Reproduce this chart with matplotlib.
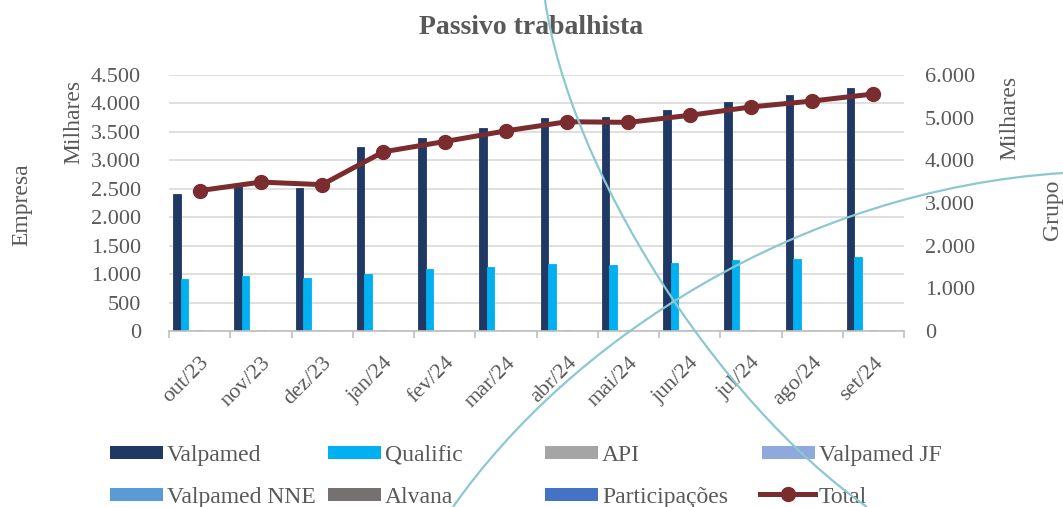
import numpy as np
import matplotlib
matplotlib.use("Agg")
import matplotlib.pyplot as plt
from matplotlib.path import Path
from matplotlib.patches import PathPatch, Rectangle
from matplotlib.lines import Line2D
from matplotlib.ticker import FuncFormatter

# -----------------------------------------
# Data (Milhares)
# -----------------------------------------

months = ["out/23", "nov/23", "dez/23", "jan/24", "fev/24", "mar/24",
          "abr/24", "mai/24", "jun/24", "jul/24", "ago/24", "set/24"]

valpamed = [2400, 2560, 2520, 3240, 3390, 3570, 3750, 3755, 3885, 4030, 4150, 4270]
qualific = [910, 970, 940, 1000, 1085, 1130, 1170, 1155, 1195, 1240, 1260, 1300]
api = [0, 0, 0, 0, 0, 0, 0, 0, 0, 0, 0, 0]
valpamed_jf = [15, 15, 15, 15, 15, 15, 15, 15, 15, 15, 15, 15]
valpamed_nne = [0, 0, 0, 0, 0, 0, 0, 0, 0, 0, 0, 0]
alvana = [0, 0, 0, 0, 0, 0, 0, 0, 0, 0, 0, 0]
participacoes = [0, 0, 0, 0, 0, 0, 0, 0, 0, 0, 0, 0]
total = [3290, 3490, 3430, 4200, 4440, 4690, 4905, 4890, 5055, 5250, 5390, 5555]

series_names = ["Valpamed", "Qualific", "API", "Valpamed JF",
                "Valpamed NNE", "Alvana", "Participações"]
series_vals = [valpamed, qualific, api, valpamed_jf,
               valpamed_nne, alvana, participacoes]
series_colors = ["#203864", "#00B0F0", "#A5A5A5", "#8EA9DB",
                 "#5B9BD5", "#767171", "#4472C4"]
TOTAL_COLOR = "#7B2C2E"

TEXT = "#595959"
plt.rcParams.update({
    "font.family": ["Liberation Serif", "DejaVu Serif"],
    "font.size": 16,
    "text.color": TEXT,
    "xtick.color": TEXT,
    "ytick.color": TEXT,
})


def milhar(v, pos=None):
    return f"{int(v):,}".replace(",", ".")


W, H = 1063, 507
fig = plt.figure(figsize=(W / 100, H / 100), dpi=100)
ax = fig.add_axes([169 / W, 1 - 331 / H, (904 - 169) / W, 256 / H])
ax.set_facecolor("none")

x = np.arange(len(months))
bw = 0.124
n = len(series_vals)
for i, (name, vals, col) in enumerate(zip(series_names, series_vals, series_colors)):
    off = (i - (n - 1) / 2) * bw
    ax.bar(x + off, vals, width=bw, color=col, edgecolor=col,
           linewidth=0.6, label=name, zorder=2)

ax.set_xlim(-0.5, len(months) - 0.5)
ax.set_ylim(0, 4500)
ax.set_yticks(np.arange(0, 4501, 500))
ax.yaxis.set_major_formatter(FuncFormatter(milhar))
ax.grid(axis="y", color="#D9D9D9", linewidth=1.2, zorder=0)
ax.set_axisbelow(True)

ax.set_xticks(x)
ax.set_xticklabels(months, rotation=45, ha="right", rotation_mode="anchor")
ax.set_xticks(np.arange(-0.5, len(months)), minor=True)
ax.tick_params(axis="x", which="major", length=0, pad=16, labelsize=16)
ax.tick_params(axis="x", which="minor", length=5, color="#BFBFBF", width=1.2)
ax.tick_params(axis="y", length=0, pad=20, labelsize=16)

for s in ["top", "left", "right"]:
    ax.spines[s].set_visible(False)
ax.spines["bottom"].set_color("#BFBFBF")
ax.spines["bottom"].set_linewidth(1.2)

ax2 = ax.twinx()
ax2.set_ylim(0, 6000)
ax2.set_yticks(np.arange(0, 6001, 1000))
ax2.yaxis.set_major_formatter(FuncFormatter(milhar))
ax2.tick_params(axis="y", length=0, pad=15, labelsize=16)
for s in ["top", "left", "right", "bottom"]:
    ax2.spines[s].set_visible(False)
ax2.plot(x, total, color=TOTAL_COLOR, linewidth=3.6, marker="o",
         markersize=10, label="Total", zorder=3)

# titles / axis names
fig.text(0.5, 1 - 27 / H, "Passivo trabalhista", ha="center", va="center",
         fontsize=20, fontweight="bold", color=TEXT)
fig.text(22 / W, 1 - 205 / H, "Empresa", rotation=90, ha="center", va="center", fontsize=17)
fig.text(74 / W, 1 - 122 / H, "Milhares", rotation=90, ha="center", va="center", fontsize=17)
fig.text(1010 / W, 1 - 118 / H, "Milhares", rotation=90, ha="center", va="center", fontsize=17)
fig.text(1052 / W, 1 - 210 / H, "Grupo", rotation=90, ha="center", va="center", fontsize=17)

# -----------------------------------------
# Legend (4 columns x 2 rows, row-major like Excel)
# -----------------------------------------

legend_items = list(zip(series_names, series_colors)) + [("Total", TOTAL_COLOR)]
col_x = [110, 328, 545, 762]
row_y = [452, 494]
key_w, key_h = 53, 13

for k, (name, col) in enumerate(legend_items):
    lx = col_x[k % 4]
    ly = row_y[k // 4]
    if name == "Total":
        fig.add_artist(Line2D([(lx - 2) / W, (lx + key_w) / W], [1 - ly / H] * 2,
                              color=col, linewidth=3.6, transform=fig.transFigure))
        fig.add_artist(Line2D([(lx + key_w / 2 - 1) / W], [1 - ly / H], color=col,
                              marker="o", markersize=10, transform=fig.transFigure))
    else:
        fig.add_artist(Rectangle((lx / W, 1 - (ly + key_h / 2) / H),
                                 key_w / W, key_h / H, facecolor=col,
                                 edgecolor="none", transform=fig.transFigure))
    fig.text((lx + key_w + 4) / W, 1 - (ly + 1) / H, name, ha="left",
             va="center_baseline", fontsize=17)

# decorative background arcs of the slide
def arc(p0, p1, p2, p3):
    verts = [(px / W, 1 - py / H) for px, py in (p0, p1, p2, p3)]
    path = Path(verts, [Path.MOVETO, Path.CURVE4, Path.CURVE4, Path.CURVE4])
    fig.add_artist(PathPatch(path, facecolor="none", edgecolor="#8CC8D1",
                             linewidth=1.6, transform=fig.transFigure, zorder=5))

arc((545, 0), (570, 170), (715, 400), (867, 507))
arc((453, 507), (570, 340), (800, 190), (1063, 173))

fig.savefig("out.png", dpi=100)
